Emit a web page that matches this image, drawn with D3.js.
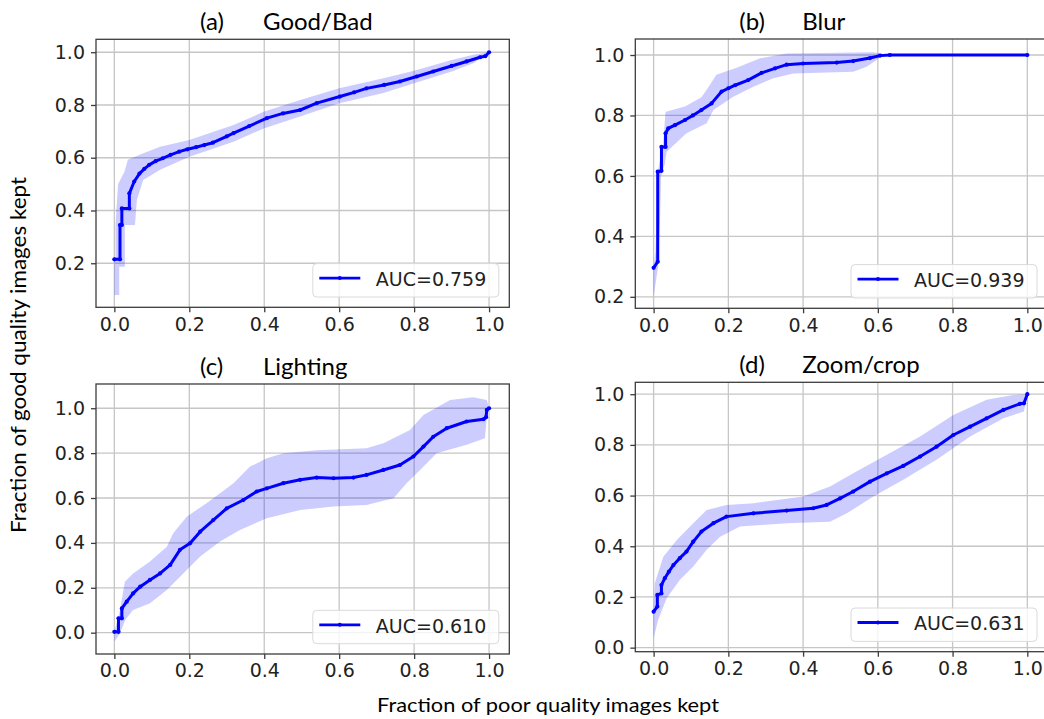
<!DOCTYPE html>
<html>
<head>
<meta charset="utf-8">
<script src="https://cdn.jsdelivr.net/npm/d3@7"></script>
<style>
body { margin: 0; background: #fff; }
svg { display: block; }
</style>
</head>
<body>
<svg id="chart" width="1044" height="719"></svg>
<script>
// panel titles and legend labels
const panelTags = ["(a)", "(b)", "(c)", "(d)"];
const panelNames = ["Good/Bad", "Blur", "Lighting", "Zoom/crop"];
const aucLabels = ["AUC=0.759", "AUC=0.939", "AUC=0.610", "AUC=0.631"];

const xTicks = [0, 0.2, 0.4, 0.6, 0.8, 1.0];
const yTicksTop = [0.2, 0.4, 0.6, 0.8, 1.0];
const yTicksBottom = [0, 0.2, 0.4, 0.6, 0.8, 1.0];

// (a) Good/Bad : [poor kept, good kept]
const aLine = [[0,0.215],[0.015,0.215],[0.015,0.345],[0.02,0.345],[0.02,0.408],[0.04,0.408],[0.04,0.465],
  [0.053,0.51],[0.067,0.54],[0.08,0.558],[0.093,0.573],[0.11,0.587],[0.129,0.598],[0.15,0.611],[0.173,0.623],
  [0.195,0.632],[0.218,0.64],[0.24,0.648],[0.263,0.657],[0.3,0.681],[0.318,0.693],[0.36,0.72],[0.407,0.75],
  [0.45,0.768],[0.496,0.781],[0.54,0.807],[0.602,0.832],[0.64,0.848],[0.673,0.863],[0.72,0.876],[0.762,0.889],
  [0.807,0.908],[0.851,0.927],[0.9,0.948],[0.94,0.965],[0.976,0.981],[0.99,0.985],[1,1]];
const aUpper = [[0,0.215],[0.003,0.215],[0.003,0.35],[0.01,0.5],[0.027,0.547],[0.036,0.592],[0.069,0.612],
  [0.122,0.642],[0.2,0.667],[0.318,0.724],[0.4,0.775],[0.496,0.819],[0.6,0.863],[0.718,0.901],[0.8,0.93],
  [0.9,0.971],[0.958,0.99],[1,1]];
const aLower = [[0,0.08],[0.013,0.08],[0.013,0.187],[0.028,0.187],[0.028,0.345],[0.055,0.345],[0.06,0.44],
  [0.077,0.516],[0.122,0.554],[0.2,0.604],[0.318,0.661],[0.4,0.712],[0.496,0.756],[0.6,0.807],[0.718,0.845],
  [0.8,0.882],[0.9,0.927],[0.958,0.958],[1,1]];

// (b) Blur
const bLine = [[0,0.296],[0.011,0.316],[0.011,0.614],[0.021,0.617],[0.021,0.696],[0.032,0.696],[0.032,0.741],
  [0.039,0.757],[0.057,0.768],[0.084,0.785],[0.105,0.8],[0.128,0.818],[0.155,0.84],[0.182,0.879],[0.2,0.89],
  [0.218,0.9],[0.253,0.917],[0.289,0.941],[0.325,0.956],[0.356,0.968],[0.4,0.972],[0.49,0.975],[0.534,0.98],
  [0.579,0.99],[0.606,0.998],[0.632,1],[1,1]];
const bUpper = [[0,0.296],[0.005,0.35],[0.012,0.62],[0.025,0.7],[0.032,0.812],[0.084,0.83],[0.128,0.86],
  [0.15,0.9],[0.168,0.935],[0.222,0.958],[0.285,0.989],[0.356,1.005],[0.588,1.009],[0.632,1],[1,1]];
const bLower = [[0,0.2],[0.012,0.3],[0.017,0.45],[0.02,0.6],[0.03,0.64],[0.035,0.68],[0.088,0.741],
  [0.142,0.774],[0.16,0.818],[0.213,0.862],[0.267,0.895],[0.32,0.923],[0.374,0.939],[0.534,0.945],
  [0.57,0.961],[0.606,0.992],[0.632,1],[1,1]];

// (c) Lighting
const cLine = [[0,0.004],[0.011,0.004],[0.011,0.064],[0.02,0.064],[0.02,0.108],[0.033,0.138],[0.05,0.175],
  [0.069,0.205],[0.095,0.235],[0.122,0.264],[0.149,0.302],[0.175,0.369],[0.202,0.398],[0.229,0.45],[0.264,0.502],
  [0.3,0.554],[0.344,0.591],[0.38,0.629],[0.407,0.643],[0.451,0.666],[0.496,0.681],[0.54,0.691],[0.585,0.688],
  [0.638,0.691],[0.673,0.703],[0.718,0.725],[0.762,0.747],[0.798,0.785],[0.825,0.829],[0.851,0.873],
  [0.887,0.911],[0.94,0.941],[0.985,0.951],[0.992,0.96],[0.994,0.993],[1,1]];
const cUpper = [[0,0.004],[0.015,0.1],[0.028,0.227],[0.05,0.264],[0.095,0.317],[0.14,0.383],[0.157,0.443],
  [0.193,0.517],[0.246,0.577],[0.318,0.666],[0.362,0.74],[0.407,0.777],[0.451,0.799],[0.54,0.813],
  [0.673,0.822],[0.718,0.844],[0.789,0.903],[0.825,0.97],[0.896,1.037],[0.958,1.049],[0.994,1.037],[1,1]];
const cLower = [[0,-0.04],[0.015,-0.003],[0.03,0.06],[0.05,0.101],[0.095,0.131],[0.14,0.19],[0.184,0.264],
  [0.229,0.339],[0.282,0.406],[0.335,0.458],[0.407,0.51],[0.496,0.547],[0.585,0.562],[0.673,0.569],
  [0.745,0.599],[0.78,0.666],[0.816,0.725],[0.86,0.799],[0.94,0.837],[0.989,0.866],[0.994,0.96],[1,1]];

// (d) Zoom/crop
const dLine = [[0,0.142],[0.01,0.162],[0.01,0.208],[0.021,0.214],[0.021,0.247],[0.03,0.274],[0.041,0.3],
  [0.053,0.326],[0.07,0.353],[0.088,0.379],[0.106,0.418],[0.128,0.458],[0.16,0.491],[0.195,0.517],[0.267,0.53],
  [0.356,0.541],[0.427,0.55],[0.463,0.563],[0.499,0.589],[0.534,0.616],[0.579,0.655],[0.624,0.688],
  [0.668,0.717],[0.713,0.754],[0.757,0.793],[0.802,0.839],[0.847,0.872],[0.891,0.905],[0.936,0.938],
  [0.98,0.962],[0.991,0.964],[1,1]];
const dUpper = [[0,0.142],[0.003,0.254],[0.026,0.359],[0.062,0.425],[0.106,0.491],[0.142,0.543],[0.195,0.563],
  [0.267,0.57],[0.4,0.596],[0.472,0.636],[0.534,0.688],[0.624,0.761],[0.713,0.833],[0.802,0.918],
  [0.891,0.978],[0.962,0.997],[1,1]];
const dLower = [[0,0.037],[0.012,0.109],[0.035,0.195],[0.07,0.267],[0.106,0.32],[0.142,0.386],[0.178,0.438],
  [0.231,0.478],[0.356,0.491],[0.472,0.497],[0.517,0.53],[0.588,0.596],[0.668,0.662],[0.757,0.741],
  [0.847,0.833],[0.936,0.905],[0.991,0.932],[1,1]];

const xDomain = [-0.049, 1.054];

// layout of each subplot: [left, right, top, bottom]
const panels = [
  { line: aLine, upper: aUpper, lower: aLower, yTicks: yTicksTop, yDomain: [0.033, 1.049], box: [96, 509.3, 39.3, 307.3] },
  { line: bLine, upper: bUpper, lower: bLower, yTicks: yTicksTop, yDomain: [0.162, 1.053], box: [635.3, 1047.5, 39, 308.3] },
  { line: cLine, upper: cUpper, lower: cLower, yTicks: yTicksBottom, yDomain: [-0.095, 1.108], box: [96, 509.3, 384, 654] },
  { line: dLine, upper: dUpper, lower: dLower, yTicks: yTicksBottom, yDomain: [-0.016, 1.047], box: [635.3, 1047.5, 382.3, 651.7] }
];

const svg = d3.select("#chart");
const tickFont = "'DejaVu Sans', sans-serif";
const labelFont = "Lato, 'Open Sans', sans-serif";

panels.forEach(function (p, i) {
  const [l, r, t, b] = p.box;
  const x = d3.scaleLinear().domain(xDomain).range([l, r]);
  const y = d3.scaleLinear().domain(p.yDomain).range([b, t]);
  const g = svg.append("g");

  // grid
  g.selectAll(".gx").data(xTicks).join("line")
    .attr("x1", d => x(d)).attr("x2", d => x(d))
    .attr("y1", t).attr("y2", b)
    .attr("stroke", "#c6c6c6").attr("stroke-width", 1.3);
  g.selectAll(".gy").data(p.yTicks).join("line")
    .attr("y1", d => y(d)).attr("y2", d => y(d))
    .attr("x1", l).attr("x2", r)
    .attr("stroke", "#c6c6c6").attr("stroke-width", 1.3);

  // confidence band
  const band = p.upper.concat(p.lower.slice().reverse());
  const lineGen = d3.line().x(d => x(d[0])).y(d => y(d[1]));
  g.append("path")
    .attr("d", lineGen(band) + "Z")
    .attr("fill", "rgb(0,0,255)")
    .attr("fill-opacity", 0.2);

  // mean curve
  g.append("path")
    .attr("d", lineGen(p.line))
    .attr("fill", "none")
    .attr("stroke", "#0000ff")
    .attr("stroke-width", 3)
    .attr("stroke-linejoin", "round");
  g.selectAll(".pt").data(p.line).join("circle")
    .attr("cx", d => x(d[0])).attr("cy", d => y(d[1]))
    .attr("r", 2.1).attr("fill", "#0000ff");

  // frame
  g.append("rect")
    .attr("x", l).attr("y", t)
    .attr("width", r - l).attr("height", b - t)
    .attr("fill", "none").attr("stroke", "#3c3c3c").attr("stroke-width", 1.3);

  // axes
  const xAxis = g.append("g").attr("transform", `translate(0,${b})`)
    .call(d3.axisBottom(x).tickValues(xTicks).tickFormat(d3.format(".1f")).tickSize(5).tickPadding(5));
  const yAxis = g.append("g").attr("transform", `translate(${l},0)`)
    .call(d3.axisLeft(y).tickValues(p.yTicks).tickFormat(d3.format(".1f")).tickSize(5).tickPadding(6));
  [xAxis, yAxis].forEach(function (ax) {
    ax.attr("font-family", tickFont).attr("font-size", 19);
    ax.select(".domain").remove();
    ax.selectAll(".tick line").attr("stroke", "#3c3c3c").attr("stroke-width", 1.3);
    ax.selectAll(".tick text")
      .attr("fill", "#222")
      .style("font-family", tickFont)
      .style("font-size", "19px");
  });

  // legend
  const lg = g.append("g").attr("transform", `translate(${r - 10.5 - 186},${b - 10.3 - 33.4})`);
  lg.append("rect")
    .attr("width", 186).attr("height", 33.4).attr("rx", 4)
    .attr("fill", "#fff").attr("fill-opacity", 0.8)
    .attr("stroke", "#dadada").attr("stroke-width", 1);
  lg.append("line")
    .attr("x1", 6.5).attr("x2", 47.5).attr("y1", 14.5).attr("y2", 14.5)
    .attr("stroke", "#0000ff").attr("stroke-width", 2.8);
  lg.append("circle").attr("cx", 27).attr("cy", 14.5).attr("r", 2).attr("fill", "#0000ff");
  lg.append("text")
    .attr("x", 63).attr("y", 22.4)
    .attr("fill", "#222")
    .style("font-family", tickFont)
    .style("font-size", "19px")
    .text(aucLabels[i]);

  // title
  const title = g.append("text")
    .attr("y", t - 9)
    .attr("fill", "#000")
    .style("font-family", labelFont)
    .style("font-size", "24px");
  title.append("tspan").attr("x", l + 104).text(panelTags[i]);
  title.append("tspan").attr("x", l + 167).text(panelNames[i]);
});

// shared axis labels
svg.append("text")
  .attr("transform", "translate(26,355) rotate(-90)")
  .attr("text-anchor", "middle")
  .attr("textLength", 356)
  .attr("lengthAdjust", "spacingAndGlyphs")
  .attr("fill", "#000")
  .style("font-family", labelFont)
  .style("font-size", "21px")
  .text("Fraction of good quality images kept");

svg.append("text")
  .attr("x", 548).attr("y", 712)
  .attr("text-anchor", "middle")
  .attr("textLength", 342)
  .attr("lengthAdjust", "spacingAndGlyphs")
  .attr("fill", "#000")
  .style("font-family", labelFont)
  .style("font-size", "20px")
  .text("Fraction of poor quality images kept");
</script>
</body>
</html>
